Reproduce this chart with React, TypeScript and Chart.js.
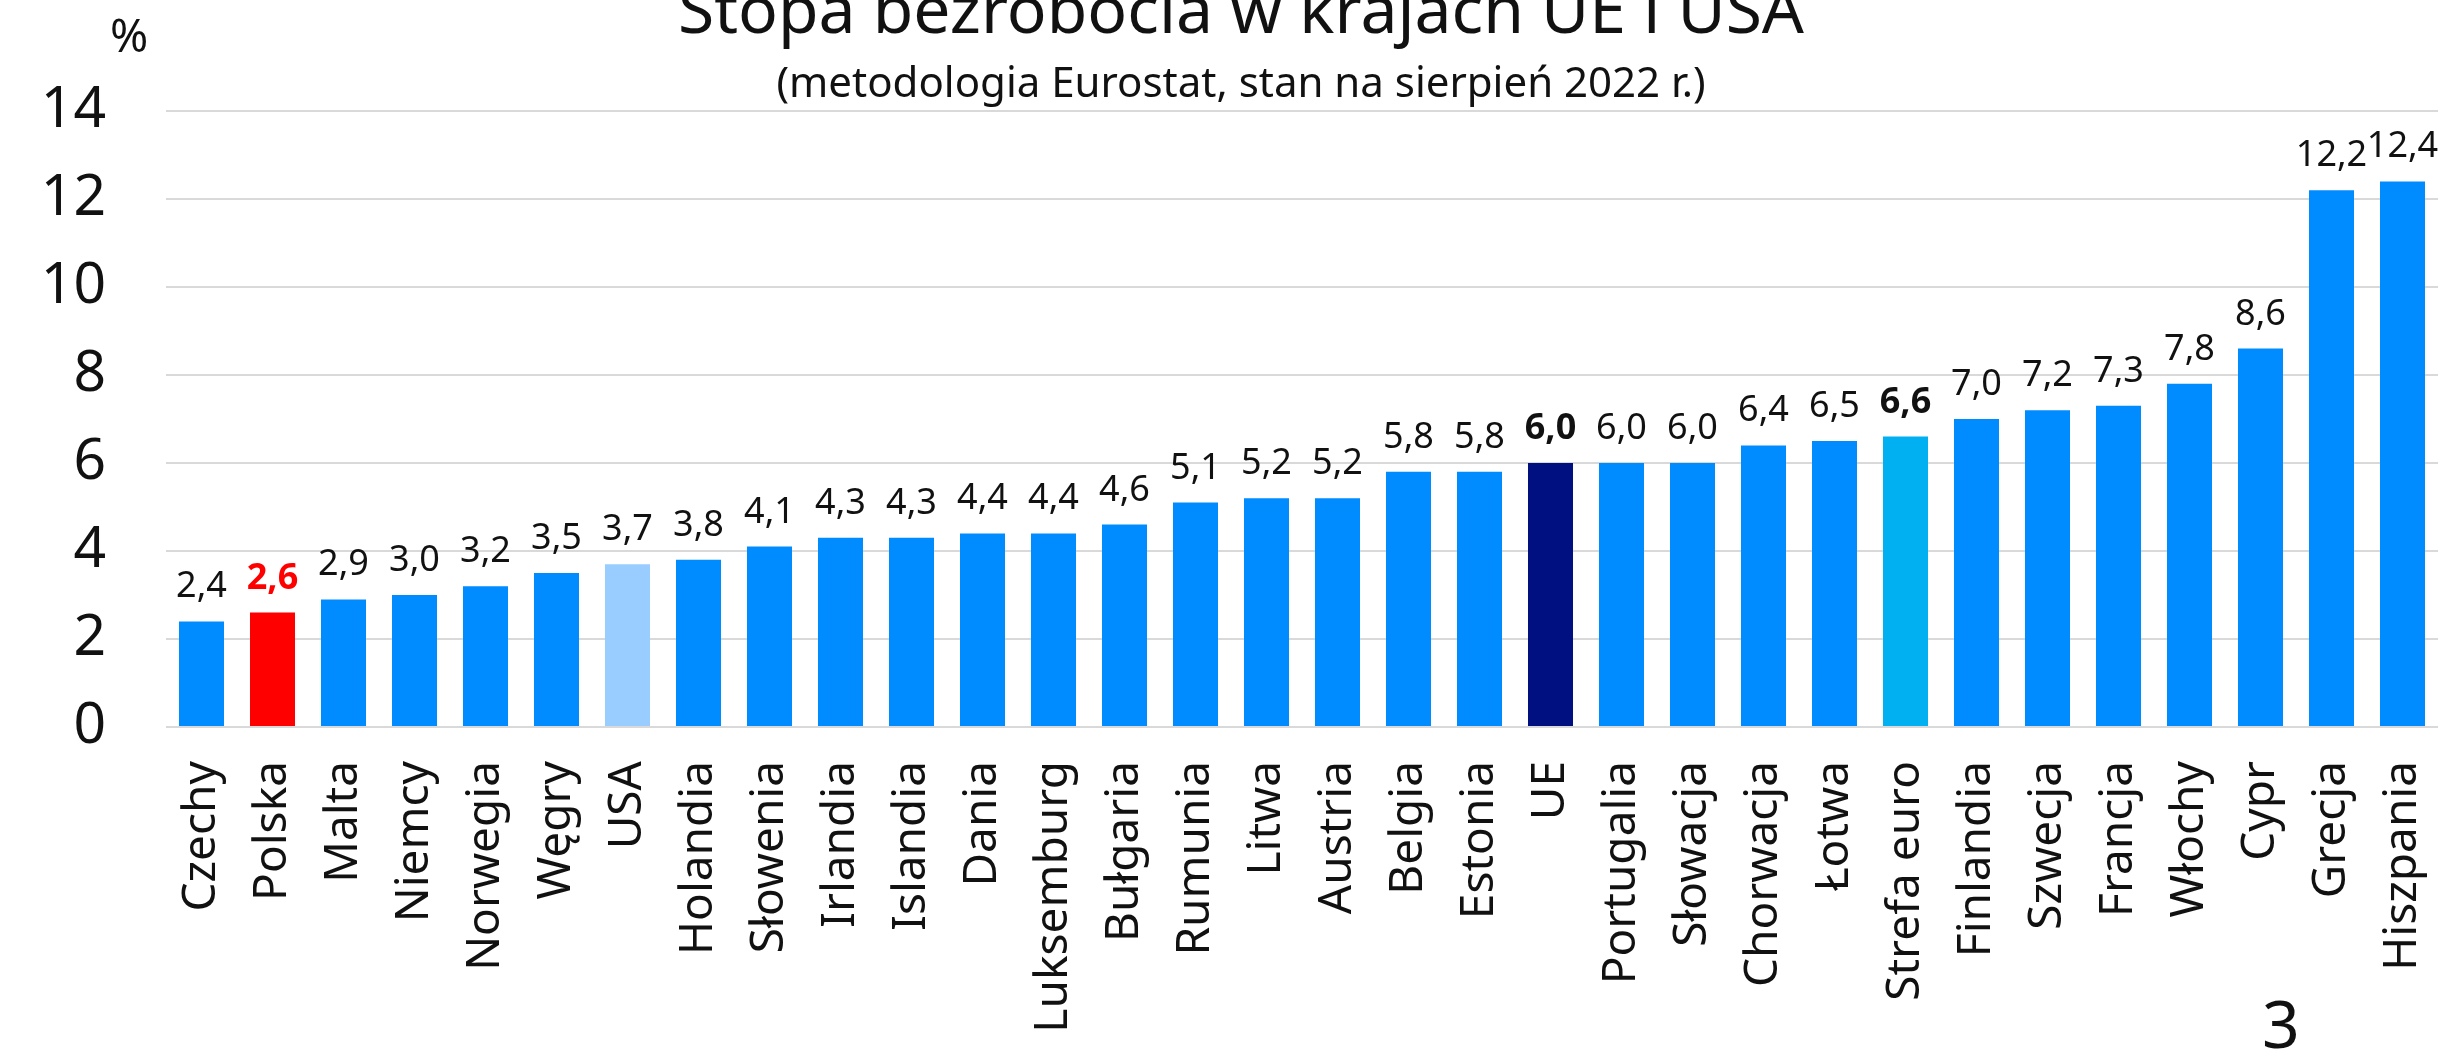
import React, { useEffect, useRef } from "react";
import { Chart, registerables } from "chart.js";

Chart.register(...registerables);

const countries: string[] = [
  "Czechy", "Polska", "Malta", "Niemcy", "Norwegia", "Węgry", "USA", "Holandia",
  "Słowenia", "Irlandia", "Islandia", "Dania", "Luksemburg", "Bułgaria", "Rumunia",
  "Litwa", "Austria", "Belgia", "Estonia", "UE", "Portugalia", "Słowacja",
  "Chorwacja", "Łotwa", "Strefa euro", "Finlandia", "Szwecja", "Francja",
  "Włochy", "Cypr", "Grecja", "Hiszpania",
];

const unemployment: number[] = [
  2.4, 2.6, 2.9, 3.0, 3.2, 3.5, 3.7, 3.8,
  4.1, 4.3, 4.3, 4.4, 4.4, 4.6, 5.1,
  5.2, 5.2, 5.8, 5.8, 6.0, 6.0, 6.0,
  6.4, 6.5, 6.6, 7.0, 7.2, 7.3,
  7.8, 8.6, 12.2, 12.4,
];

const yTicks: number[] = [0, 2, 4, 6, 8, 10, 12, 14];

const titleText = "Stopa bezrobocia w krajach UE i USA";
const subtitleText = "(metodologia Eurostat, stan na sierpień 2022 r.)";
const unitText = "%";
const pageNumber = "3";

const BLUE = "#008CFF";
const colorFor = (name: string): string => {
  if (name === "Polska") return "#FF0000";
  if (name === "USA") return "#99CCFF";
  if (name === "UE") return "#001080";
  if (name === "Strefa euro") return "#00B0F0";
  return BLUE;
};
const labelStyle = (name: string): { color: string; bold: boolean } => {
  if (name === "Polska") return { color: "#FF0000", bold: true };
  if (name === "UE" || name === "Strefa euro") return { color: "#111111", bold: true };
  return { color: "#111111", bold: false };
};
const fmt = (v: number) => v.toFixed(1).replace(".", ",");

const FONT = "'Noto Sans', 'Open Sans', sans-serif";

const textPlugin = {
  id: "decorations",
  afterDatasetsDraw(chart: any) {
    const ctx = chart.ctx;
    const meta = chart.getDatasetMeta(0);
    ctx.save();
    ctx.textAlign = "center";
    ctx.textBaseline = "alphabetic";
    meta.data.forEach((bar: any, i: number) => {
      const st = labelStyle(countries[i]);
      ctx.font = `${st.bold ? "bold " : ""}36px ${FONT}`;
      ctx.fillStyle = st.color;
      ctx.fillText(fmt(unemployment[i]), bar.x, bar.y - 24);
    });
    ctx.restore();
  },
  afterDraw(chart: any) {
    const ctx = chart.ctx;
    ctx.save();
    ctx.fillStyle = "#111111";
    ctx.textAlign = "center";
    ctx.textBaseline = "alphabetic";
    ctx.font = `66px ${FONT}`;
    ctx.fillText(titleText, 1241, 33);
    ctx.font = `42px ${FONT}`;
    ctx.fillText(subtitleText, 1241, 97);
    ctx.font = `46px ${FONT}`;
    ctx.fillText(unitText, 129, 52);
    ctx.font = `66px ${FONT}`;
    ctx.fillText(pageNumber, 2281, 1048);
    ctx.restore();
  },
};

export default function App() {
  const ref = useRef<HTMLCanvasElement | null>(null);
  useEffect(() => {
    if (!ref.current) return;
    const chart = new Chart(ref.current, {
      type: "bar",
      data: {
        labels: countries,
        datasets: [
          {
            data: unemployment,
            backgroundColor: countries.map(colorFor),
            borderWidth: 0,
            categoryPercentage: 1,
            barPercentage: 0.634,
          },
        ],
      },
      options: {
        animation: false,
        responsive: false,
        maintainAspectRatio: false,
        layout: { padding: { top: 111, right: 22, left: 0, bottom: 0 } },
        plugins: {
          legend: { display: false },
          tooltip: { enabled: false },
          title: { display: false },
        },
        scales: {
          x: {
            grid: { display: false, drawTicks: false },
            border: { display: false },
            ticks: {
              autoSkip: false,
              minRotation: 90,
              maxRotation: 90,
              padding: 34,
              color: "#111111",
              font: { family: FONT, size: 46 },
            },
            afterFit(scale: any) {
              scale.height = 327;
              scale.paddingLeft = 0;
              scale.paddingRight = 0;
            },
          },
          y: {
            min: 0,
            max: 14,
            afterBuildTicks(scale: any) {
              scale.ticks = yTicks.map((v) => ({ value: v }));
            },
            grid: { color: "#D9D9D9", lineWidth: 2, drawTicks: false },
            border: { display: false },
            ticks: {
              padding: 60,
              color: "#111111",
              font: { family: FONT, size: 57 },
              callback: (v: any) => String(v),
            },
            afterFit(scale: any) {
              scale.width = 166;
              scale.paddingTop = 0;
              scale.paddingBottom = 0;
            },
          },
        },
      },
      plugins: [textPlugin],
    });
    return () => chart.destroy();
  }, []);
  return (
    <div style={{ position: "absolute", left: 0, top: 0, width: 2460, height: 1054, background: "#fff" }}>
      <canvas ref={ref} width={2460} height={1054} style={{ width: 2460, height: 1054, display: "block" }} />
    </div>
  );
}
